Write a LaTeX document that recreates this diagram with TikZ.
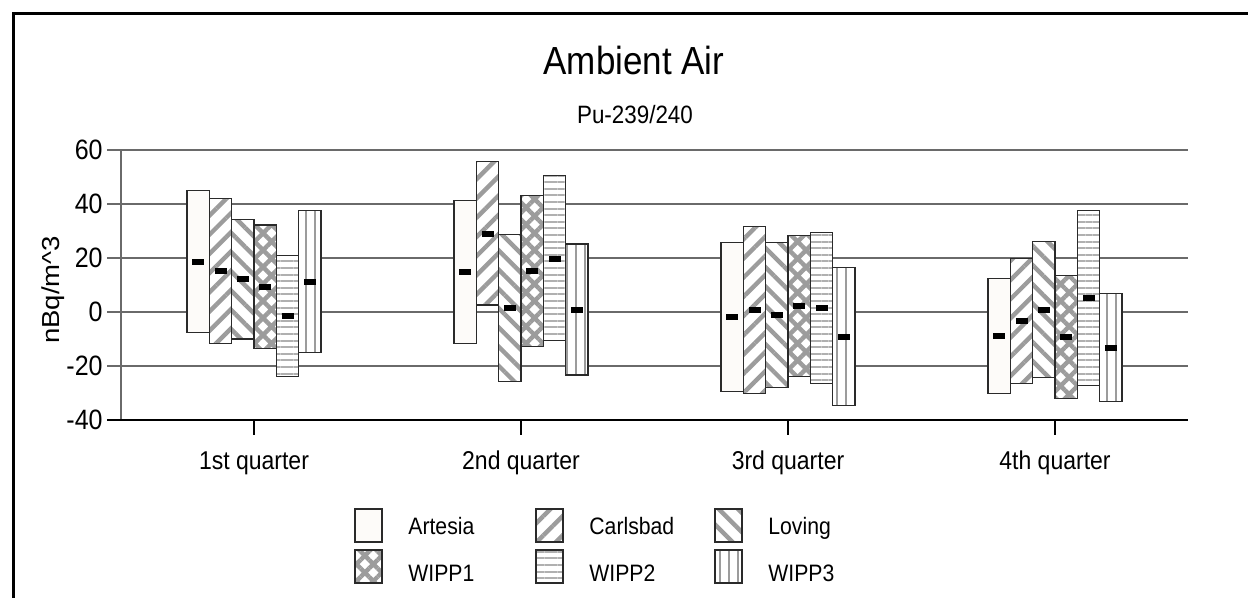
\documentclass[tikz,border=0pt]{standalone}
\usepackage{fontspec}
\setmainfont{Liberation Sans}
\usetikzlibrary{patterns.meta}

\definecolor{hatchgray}{HTML}{9C9C9C}
\definecolor{gridgray}{HTML}{6A6A6A}
\definecolor{barline}{HTML}{2A2A2A}

\tikzset{
  barbox/.style={draw=barline, line width=0.6pt},
  artesia/.style={barbox, fill=white!97!brown},
  carlsbad/.style={barbox, preaction={fill=white}, pattern color=hatchgray,
    pattern={Lines[angle=45, distance=6.8pt, line width=2.2pt]}},
  loving/.style={barbox, preaction={fill=white}, pattern color=hatchgray,
    pattern={Lines[angle=-45, distance=6.8pt, line width=2.2pt]}},
  wipp1/.style={barbox, preaction={fill=white}, pattern color=hatchgray,
    pattern={Hatch[angle=45, distance=6pt, line width=2.2pt]}},
  wipp2/.style={barbox, preaction={fill=white}, pattern color=hatchgray!80,
    pattern={Lines[angle=0, distance=3.3pt, line width=1pt]}},
  wipp3/.style={barbox, preaction={fill=white}, pattern color=hatchgray,
    pattern={Lines[angle=90, distance=4.5pt, line width=1pt]}},
  ticklbl/.style={font=\fontsize{12.5}{14}\selectfont, inner sep=0pt, yscale=1.12},
  qlbl/.style={font=\fontsize{11.5}{14}\selectfont, inner sep=0pt, yscale=1.12},
  legtxt/.style={font=\fontsize{10.6}{13}\selectfont, inner sep=0pt, yscale=1.12}
}

\begin{document}
\begin{tikzpicture}[x=0.5pt, y=0.5pt]
    \useasboundingbox (0,0) rectangle (1248,598);
    % frame, cut off at right and bottom
    \draw[line width=1.75pt] (13.5,0) -- (13.5,584.5) -- (1248,584.5);
    \node[anchor=base, yscale=1.12, font=\fontsize{17.5}{20}\selectfont] (title) at (634,523) {Ambient Air};
    \node[anchor=base, yscale=1.12, font=\fontsize{11.2}{13}\selectfont] (subtitle) at (635,474) {Pu-239/240};
    \node[rotate=90, xscale=1.12, font=\fontsize{12.3}{14}\selectfont, inner sep=0pt] (ylabel) at (53,308) {nBq/m\textasciicircum 3};
    \begin{scope}[shift={(0,286)}, yscale=2.7]
        % grid and axes
        \foreach \v in {-20,0,...,60}
            \draw[gridgray, line width=0.7pt] (107,\v) -- (1188,\v);
        \draw[gridgray, line width=0.7pt] (121,-40) -- (121,60);
        \draw[line width=0.7pt] (107,-40) -- (1188,-40);
        \foreach \v in {-40,-20,...,60}
            \node[ticklbl, anchor=east] (y\v) at (103,\v) {\v};
        \foreach \cx/\q [count=\n] in {254/1st, 521/2nd, 788/3rd, 1055/4th} {
            \draw[line width=0.7pt] (\cx,-40) -- (\cx,-45.5);
            \node[qlbl, anchor=base] (q\n) at (\cx,-58.5) {\q{} quarter};
        }
        % bars: style/high/low/mean
        \foreach \cx/\grp in {
            254/{artesia/45/-7.5/18.5, carlsbad/42/-11.7/15.2, loving/34.3/-10/12.2,
                 wipp1/32.2/-13.5/9.4, wipp2/20.9/-24/-1.5, wipp3/37.6/-15/11.1},
            521/{artesia/41.4/-11.6/14.9, carlsbad/55.6/2.6/29, loving/28.8/-25.8/1.6,
                 wipp1/43.2/-12.8/15.3, wipp2/50.6/-10.7/19.7, wipp3/25.2/-23.3/0.7},
            788/{artesia/25.8/-29.3/-1.7, carlsbad/31.6/-30.1/0.7, loving/25.8/-28/-1,
                 wipp1/28.4/-24/2.3, wipp2/29.5/-26.4/1.6, wipp3/16.5/-34.7/-9.1},
            1055/{artesia/12.5/-30.1/-8.8, carlsbad/19.9/-26.4/-3.2, loving/26/-24.2/0.7,
                 wipp1/13.4/-32/-9.1, wipp2/37.5/-27.3/5.3, wipp3/6.9/-33.2/-13.2}} {
            \foreach \st/\hi/\lo/\mn [count=\i from 0] in \grp {
                \pgfmathsetmacro\xl{\cx-67+22.33*\i}
                \draw[\st] (\xl,\lo) rectangle (\xl+22.33,\hi);
                \fill (\xl+5.2,\mn-1.1) rectangle (\xl+17.2,\mn+1.1);
            }
        }
    \end{scope}
    % legend
    \foreach \st/\txt/\bx/\by/\bl in {artesia/Artesia/355/56/63, carlsbad/Carlsbad/536/56/63, loving/Loving/715/56/63,
                                  wipp1/WIPP1/355/15/16.5, wipp2/WIPP2/536/15/16.5, wipp3/WIPP3/715/15/16.5} {
        \draw[\st] (\bx,\by) rectangle ++(27,33);
        \node[legtxt, anchor=base west] (lg\txt) at (\bx+53,\bl) {\txt};
    }
\end{tikzpicture}
\end{document}
